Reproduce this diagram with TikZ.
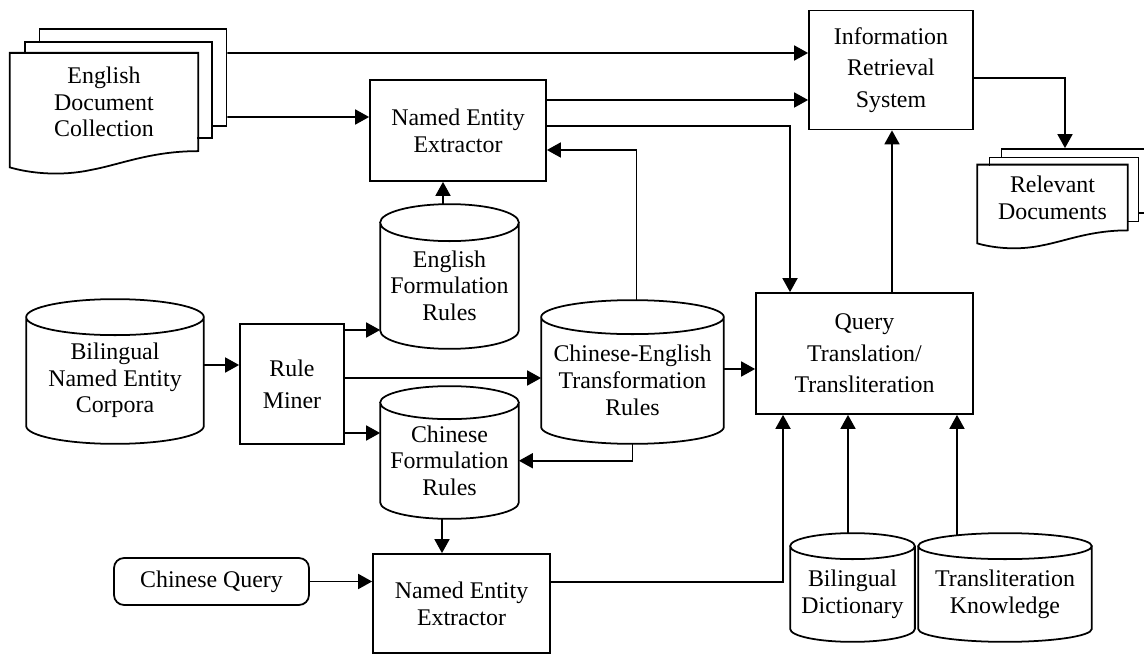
\documentclass[tikz,border=0pt]{standalone}
\usepackage{fontspec}
\setmainfont{Liberation Serif}
\usepackage{tikz}
\usetikzlibrary{arrows.meta, calc}
\tikzstyle{process} = [rectangle, draw=black, text centered, align=center]
\tikzstyle{sheet} = [rectangle, draw=black, fill=white]
\tikzstyle{docfront} = [rectangle, fill=white, text centered, align=center]
\tikzstyle{store} = [rectangle, text centered, align=center]
\tikzstyle{arrow} = [-{Triangle[length=0.28cm, width=0.3cm]}]

% outline of the front page of a document stack
\newcommand{\docwave}[1]{%
  \draw let \p1=(#1.south west), \p2=(#1.north east), \n1={\x2-\x1} in
    (\x1,\y1-0.086*\n1) -- (\x1,\y2) -- (\x2,\y2) -- (\x2,\y1)
    .. controls (\x2-0.25*\n1,\y1) and (\x2-0.41*\n1,\y1-0.07*\n1) .. (\x2-0.57*\n1,\y1-0.10*\n1)
    .. controls (\x2-0.73*\n1,\y1-0.134*\n1) and (\x2-0.89*\n1,\y1-0.118*\n1) .. (\x1,\y1-0.086*\n1)
    -- cycle;}
% outline of a database drum round a node, #2 = cap radius
\newcommand{\dbdraw}[2]{%
  \draw let \p1=(#1.north west), \p2=(#1.south east) in
    (#1.north) ellipse [x radius={(\x2-\x1)/2}, y radius=#2]
    (\x1,\y1) -- (\x1,\y2+#2)
    arc [start angle=180, end angle=360, x radius={(\x2-\x1)/2}, y radius=#2]
    -- (\x2,\y1);}

\begin{document}
\begin{tikzpicture}[x=0.02cm, y=-0.02cm, line width=1pt, font=\fontsize{13.6}{15.2}\selectfont]
\path[use as bounding box, clip] (0,0) rectangle (1144,655);

% Nodes
\node (edc3) [sheet, minimum width=3.74cm, minimum height=1.93cm] at (133,77.5) {};
\node (edc2) [sheet, minimum width=3.74cm, minimum height=1.93cm] at (118.5,90) {};
\node (edc) [docfront, minimum width=3.74cm, minimum height=1.93cm] at (104,102) {English\\Document\\Collection};
\docwave{edc}
\node (neetop) [process, minimum width=3.52cm, minimum height=2.02cm] at (458,130.5) {Named Entity\\Extractor};
\node (irs) [process, minimum width=3.28cm, minimum height=2.38cm, font=\fontsize{13.6}{17.9}\selectfont] at (891,70) {Information\\Retrieval\\System};
\node (rd3) [sheet, minimum width=2.98cm, minimum height=1.28cm] at (1076,181) {};
\node (rd2) [sheet, minimum width=2.98cm, minimum height=1.28cm] at (1064,189.5) {};
\node (rd) [docfront, minimum width=2.98cm, minimum height=1.28cm] at (1052.5,197.5) {Relevant\\Documents};
\docwave{rd}

\node (engrules) [store, minimum width=2.74cm, minimum height=2.49cm] at (449.5,285.75) {English\\Formulation\\Rules};
\dbdraw{engrules}{0.37cm}
\node (corpora) [store, minimum width=3.52cm, minimum height=2.5cm] at (115,380.5) {Bilingual\\Named Entity\\Corpora};
\dbdraw{corpora}{0.36cm}
\node (cerules) [store, minimum width=3.62cm, minimum height=2.5cm] at (632.5,380.5) {Chinese-English\\Transformation\\Rules};
\dbdraw{cerules}{0.34cm}
\node (chnrules) [store, minimum width=2.74cm, minimum height=2.29cm] at (449.5,460.75) {Chinese\\Formulation\\Rules};
\dbdraw{chnrules}{0.33cm}
\node (bidict) [store, minimum width=2.46cm, minimum height=1.88cm] at (852.5,594) {Bilingual\\Dictionary};
\dbdraw{bidict}{0.26cm}
\node (translit) [store, minimum width=3.44cm, minimum height=1.88cm] at (1005,594) {Transliteration\\Knowledge};
\dbdraw{translit}{0.26cm}

\node (miner) [process, minimum width=2.08cm, minimum height=2.4cm, font=\fontsize{13.6}{18.1}\selectfont] at (292,384) {Rule\\Miner};
\node (qtt) [process, minimum width=4.34cm, minimum height=2.42cm, font=\fontsize{13.6}{17.9}\selectfont] at (864.5,353.5) {Query\\Translation/\\Transliteration};
\node (neebot) [process, minimum width=3.54cm, minimum height=1.98cm] at (461.5,603.5) {Named Entity\\Extractor};
\node (query) [process, rounded corners=0.2cm, minimum width=3.9cm, minimum height=0.94cm] at (211.5,581.5) {Chinese Query};

% Arrows
\draw [arrow] ([yshift=0.49cm]edc3.east) -- ([yshift=0.34cm]irs.west);
\draw [arrow] ([yshift=-0.79cm]edc3.east) -- ([yshift=0.27cm]neetop.west);
\draw [arrow] ([yshift=0.61cm]neetop.east) -- ([yshift=-0.6cm]irs.west);
\draw [arrow] ([yshift=0.09cm]neetop.east) -| ([xshift=-1.49cm]qtt.north);
\draw [arrow] ([xshift=0.08cm, yshift=0.34cm]cerules.north) |- ([yshift=-0.39cm]neetop.east);
\draw [arrow] ([xshift=-0.13cm, yshift=0.37cm]engrules.north) -- ([xshift=-0.3cm]neetop.south);
\draw [arrow] ([yshift=0.31cm]corpora.east) -- ([yshift=0.38cm]miner.west);
\draw [arrow] ([yshift=1.08cm]miner.east) -- ([yshift=-0.885cm]engrules.west);
\draw [arrow] ([yshift=0.12cm]miner.east) -- ([yshift=0.05cm]cerules.west);
\draw [arrow] ([yshift=-0.98cm]miner.east) -- ([yshift=0.555cm]chnrules.west);
\draw [arrow] ([yshift=0.23cm]cerules.east) -- ([yshift=-0.31cm]qtt.west);
\draw [arrow] (cerules.south) |- (chnrules.east);
\draw [arrow] ([xshift=-0.15cm]chnrules.south) -- ([xshift=-0.39cm]neebot.north);
\draw [arrow] (query.east) -- (query.east -| neebot.west);
\draw [arrow] ([yshift=0.43cm]neebot.east) -| ([xshift=-1.63cm]qtt.south);
\draw [arrow] ([xshift=-0.09cm, yshift=0.26cm]bidict.north) -- ([xshift=-0.33cm]qtt.south);
\draw [arrow] ([xshift=-0.96cm, yshift=0.22cm]translit.north) -- ([xshift=1.85cm]qtt.south);
\draw [arrow] ([xshift=0.55cm]qtt.north) -- ([xshift=0.02cm]irs.south);
\draw [arrow] ([yshift=-0.16cm]irs.east) -| ([xshift=-0.22cm]rd3.north);

\end{tikzpicture}
\end{document}
